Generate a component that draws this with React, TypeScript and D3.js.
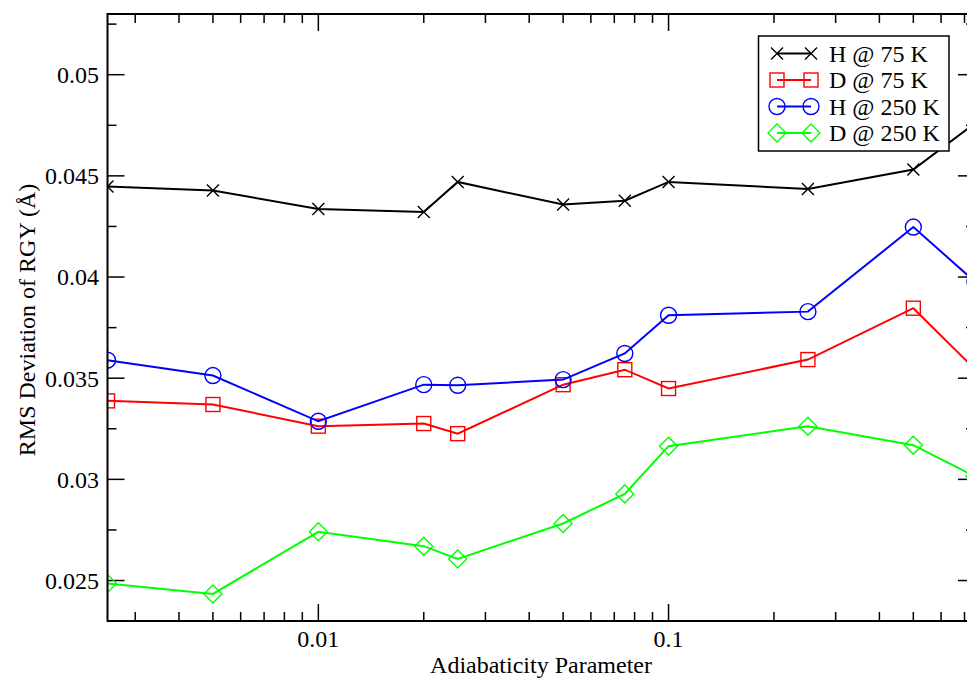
import * as React from 'react';
import * as d3 from 'd3';

// adiabaticity parameter values (x)
const params = [0.0025, 0.005, 0.01, 0.02, 0.025, 0.05, 0.075, 0.1, 0.25, 0.5, 0.75];

const h75 = [0.04448, 0.04428, 0.04336, 0.04321, 0.0447, 0.04358, 0.04377, 0.0447, 0.04435, 0.04531, 0.0476];
const d75 = [0.03388, 0.0337, 0.03263, 0.03276, 0.03226, 0.03468, 0.03542, 0.03449, 0.03592, 0.03846, 0.03544];
const h250 = [0.03589, 0.03513, 0.03287, 0.03468, 0.03465, 0.03493, 0.03622, 0.03811, 0.03829, 0.04247, 0.03977];
const d250 = [0.02485, 0.02434, 0.02741, 0.0267, 0.02607, 0.02782, 0.02928, 0.03164, 0.03263, 0.03169, 0.03015];

const seriesNames = ['H @ 75 K', 'D @ 75 K', 'H @ 250 K', 'D @ 250 K'];
const seriesColors = ['#000000', '#ff0000', '#0000ff', '#00ff00'];
const seriesMarkers = ['x', 'square', 'circle', 'diamond'];
const seriesValues = [h75, d75, h250, d250];

const yTickLabels = ['0.025', '0.03', '0.035', '0.04', '0.045', '0.05'];
const xTickLabels = ['0.01', '0.1'];

const W = 967;
const H = 679;
const margin = { left: 107.5, top: 14, right: 975, bottom: 621 };
const font = 'Liberation Serif, Times New Roman, Times, serif';

const Marker = ({ kind, x, y, color }) => {
	const sw = 1.4;
	if (kind === 'x') {
		const s = 6;
		return (
			<path d={`M${x - s},${y - s}L${x + s},${y + s}M${x - s},${y + s}L${x + s},${y - s}`} stroke={color} strokeWidth={sw} fill='none' />
		);
	}
	if (kind === 'square') {
		const s = 7;
		return <rect x={x - s} y={y - s} width={2 * s} height={2 * s} stroke={color} strokeWidth={sw} fill='none' />;
	}
	if (kind === 'circle') {
		return <circle cx={x} cy={y} r={8} stroke={color} strokeWidth={sw} fill='none' />;
	}
	const s = 9;
	return <path d={`M${x},${y - s}L${x + s},${y}L${x},${y + s}L${x - s},${y}Z`} stroke={color} strokeWidth={sw} fill='none' />;
};

export default function App() {
	const x = d3.scaleLog().domain([0.0025, 0.75]).range([margin.left, margin.right]);
	const y = d3.scaleLinear().domain([0.023, 0.053]).range([margin.bottom, margin.top]);

	const line = d3
		.line<[number, number]>()
		.x(d => x(d[0]))
		.y(d => y(d[1]));

	const yMajor = yTickLabels.map(Number);
	const yMinor = yMajor.map(v => v + 0.0025).filter(v => v < 0.053);

	const xMajor = xTickLabels.map(Number);
	const xMinor: number[] = [];
	[0.001, 0.01, 0.1].forEach(dec => {
		for (let k = 2; k <= 9; k++) {
			const v = dec * k;
			if (v > 0.0025 && v < 0.75) xMinor.push(v);
		}
	});

	const major = 17;
	const minor = 9;

	return (
		<svg width={W} height={H} style={{ position: 'absolute', left: 0, top: 0, background: '#fff', fontFamily: font }}>
			<rect x={0} y={0} width={W} height={H} fill='#fff' />
			<defs>
				<clipPath id='plot'>
					<rect x={margin.left} y={margin.top} width={margin.right - margin.left} height={margin.bottom - margin.top} />
				</clipPath>
			</defs>

			{/* ticks */}
			<g stroke='#000' strokeWidth={1.5}>
				{yMajor.map(v => (
					<g key={'ym' + v}>
						<line x1={margin.left} x2={margin.left + major} y1={y(v)} y2={y(v)} />
						<line x1={margin.right} x2={margin.right - major} y1={y(v)} y2={y(v)} />
					</g>
				))}
				{yMinor.map(v => (
					<g key={'yn' + v}>
						<line x1={margin.left} x2={margin.left + minor} y1={y(v)} y2={y(v)} />
						<line x1={margin.right} x2={margin.right - minor} y1={y(v)} y2={y(v)} />
					</g>
				))}
				{xMajor.map(v => (
					<g key={'xm' + v}>
						<line x1={x(v)} x2={x(v)} y1={margin.bottom} y2={margin.bottom - major} />
						<line x1={x(v)} x2={x(v)} y1={margin.top} y2={margin.top + major} />
					</g>
				))}
				{xMinor.map(v => (
					<g key={'xn' + v}>
						<line x1={x(v)} x2={x(v)} y1={margin.bottom} y2={margin.bottom - minor} />
						<line x1={x(v)} x2={x(v)} y1={margin.top} y2={margin.top + minor} />
					</g>
				))}
			</g>

			{/* series */}
			<g clipPath='url(#plot)'>
				{seriesValues.map((vals, i) => {
					const pts = params.map((p, j) => [p, vals[j]] as [number, number]);
					return (
						<g key={i}>
							<path d={line(pts)} stroke={seriesColors[i]} strokeWidth={2} fill='none' />
							{pts.map((d, j) => (
								<Marker key={j} kind={seriesMarkers[i]} x={x(d[0])} y={y(d[1])} color={seriesColors[i]} />
							))}
						</g>
					);
				})}
			</g>

			{/* frame */}
			<rect
				x={margin.left}
				y={margin.top}
				width={margin.right - margin.left}
				height={margin.bottom - margin.top}
				fill='none'
				stroke='#000'
				strokeWidth={2}
			/>

			{/* tick labels */}
			<g fontSize={24} fill='#000'>
				{yTickLabels.map(t => (
					<text key={t} x={99} y={y(Number(t))} dy='0.35em' textAnchor='end'>
						{t}
					</text>
				))}
				{xTickLabels.map(t => (
					<text key={t} x={x(Number(t))} y={647} textAnchor='middle'>
						{t}
					</text>
				))}
			</g>

			{/* axis titles */}
			<text x={541} y={673} fontSize={24} textAnchor='middle'>
				Adiabaticity Parameter
			</text>
			<text transform='translate(35,320) rotate(-90)' fontSize={24} textAnchor='middle'>
				RMS Deviation of RGY (Å)
			</text>

			{/* legend */}
			<g>
				<rect x={758.5} y={36} width={190.5} height={115} fill='#fff' stroke='#000' strokeWidth={1.5} />
				{seriesNames.map((name, i) => {
					const ly = 53.5 + i * 26.5;
					return (
						<g key={name}>
							<line x1={777} x2={811} y1={ly} y2={ly} stroke={seriesColors[i]} strokeWidth={2} />
							<Marker kind={seriesMarkers[i]} x={777} y={ly} color={seriesColors[i]} />
							<Marker kind={seriesMarkers[i]} x={811} y={ly} color={seriesColors[i]} />
							<text x={829} y={ly} dy='0.35em' fontSize={24}>
								{name}
							</text>
						</g>
					);
				})}
			</g>
		</svg>
	);
}
